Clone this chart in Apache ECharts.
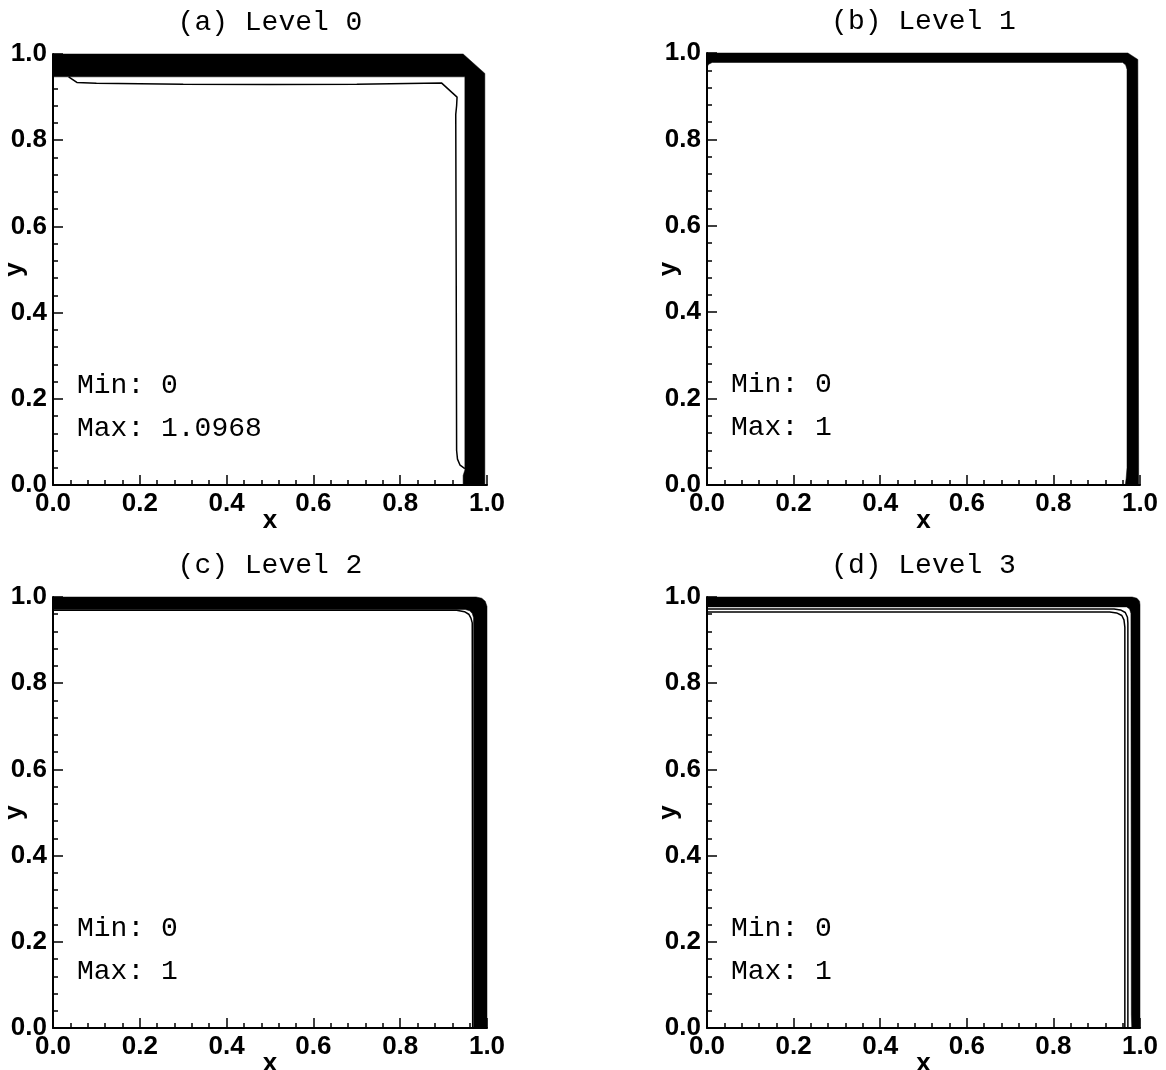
<!DOCTYPE html>
<html>
<head>
<meta charset="utf-8">
<script src="https://cdn.jsdelivr.net/npm/echarts@6/dist/echarts.min.js"></script>
<style>
  html, body { margin: 0; padding: 0; background: #fff; }
  #chart { width: 1166px; height: 1070px; }
</style>
</head>
<body>
<div id="chart"></div>
<script>
// Panel captions and field statistics
const panelTitles = ['(a) Level 0', '(b) Level 1', '(c) Level 2', '(d) Level 3'];
const fieldMin = ['0', '0', '0', '0'];
const fieldMax = ['1.0968', '1', '1', '1'];
const tickStep = 0.2;

// Packed contour bundle along the lid and the right wall:
// outer edge (top-left -> top-right -> bottom-right), then inner edge (bottom -> top -> left)
const bandOuterA = [[0, 1.0], [0.945, 1.0], [0.995, 0.955], [0.995, 0]];
const bandInnerA = [[0.945, 0], [0.945, 0.022], [0.949, 0.035], [0.949, 0.947], [0, 0.947]];
const bandOuterB = [[0, 1.0], [0.972, 1.0], [0.995, 0.985], [0.997, 0]];
const bandInnerB = [[0.966, 0], [0.968, 0.015], [0.970, 0.04], [0.970, 0.962], [0.967, 0.972],
                    [0.960, 0.978], [0.012, 0.978], [0.004, 0.974], [0, 0.968]];
const bandOuterC = [[0, 1.0], [0.975, 1.0], [0.988, 0.997], [0.996, 0.99], [1.0, 0.978], [1.0, 0]];
const bandInnerC = [[0.969, 0], [0.969, 0.952], [0.966, 0.962], [0.960, 0.968], [0.950, 0.971], [0, 0.971]];
const bandOuterD = [[0, 1.0], [0.982, 1.0], [0.993, 0.997], [0.999, 0.99], [1.0, 0.982], [1.0, 0]];
const bandInnerD = [[0.981, 0], [0.980, 0.03], [0.979, 0.962], [0.976, 0.972], [0.969, 0.977], [0, 0.977]];

// Individual contour lines inside the bundle
const lineA = [[0.036, 0.947], [0.055, 0.934], [0.1, 0.932], [0.3, 0.930], [0.5, 0.929], [0.7, 0.930],
               [0.895, 0.933], [0.931, 0.900], [0.930, 0.880], [0.928, 0.860], [0.929, 0.5],
               [0.930, 0.08], [0.932, 0.060], [0.938, 0.046], [0.949, 0.038]];
const lineC = [[0, 0.969], [0.93, 0.969], [0.948, 0.966], [0.958, 0.960], [0.963, 0.951],
               [0.966, 0.94], [0.967, 0]];
const lineD1 = [[0, 0.972], [0.94, 0.972], [0.955, 0.970], [0.966, 0.964], [0.971, 0.953],
                [0.972, 0.94], [0.972, 0]];
const lineD2 = [[0, 0.965], [0.93, 0.965], [0.946, 0.963], [0.958, 0.957], [0.963, 0.947],
                [0.965, 0.93], [0.965, 0]];

const bands = [
  bandOuterA.concat(bandInnerA),
  bandOuterB.concat(bandInnerB),
  bandOuterC.concat(bandInnerC),
  bandOuterD.concat(bandInnerD)
];
const contourLines = [[lineA], [], [lineC], [lineD1, lineD2]];

// Plot frames for the 2x2 layout
const frames = [
  { left: 53, top: 54, width: 434, height: 431 },
  { left: 707, top: 53, width: 433, height: 432 },
  { left: 53, top: 597, width: 434, height: 431 },
  { left: 707, top: 597, width: 433, height: 431 }
];

const sansFont = '"Liberation Sans", Arial, sans-serif';
const monoFont = '"Liberation Mono", "Courier New", monospace';

function makeAxis(i, dim) {
  const isX = dim === 'x';
  return {
    gridIndex: i,
    type: 'value',
    min: 0,
    max: 1,
    interval: tickStep,
    name: dim,
    nameLocation: 'middle',
    nameGap: isX ? 23 : 25,
    nameRotate: isX ? 0 : 90,
    nameMoveOverlap: false,
    nameTextStyle: { fontFamily: sansFont, fontSize: 26, fontWeight: 'bold', color: '#000' },
    axisLine: { show: true, onZero: false, lineStyle: { color: '#000', width: 2 } },
    axisTick: { show: true, inside: true, length: 10, lineStyle: { color: '#000', width: 1.5 } },
    minorTick: { show: true, splitNumber: 5, length: 5, lineStyle: { color: '#000', width: 1.5 } },
    splitLine: { show: false },
    minorSplitLine: { show: false },
    axisLabel: {
      show: true,
      margin: 6,
      fontFamily: sansFont,
      fontSize: 26,
      fontWeight: 'bold',
      color: '#000',
      showMinLabel: true,
      showMaxLabel: true,
      formatter: v => v.toFixed(1)
    }
  };
}

const grids = frames.map(f => Object.assign({ containLabel: false, outerBoundsMode: 'none' }, f));
const xAxes = frames.map((f, i) => makeAxis(i, 'x'));
const yAxes = frames.map((f, i) => makeAxis(i, 'y'));

const series = [];
bands.forEach((pts, i) => {
  series.push({
    type: 'custom',
    xAxisIndex: i,
    yAxisIndex: i,
    silent: true,
    data: [pts[0]],
    renderItem: (params, api) => ({
      type: 'polygon',
      shape: { points: pts.map(p => api.coord(p)) },
      style: { fill: '#000', stroke: '#000', lineWidth: 0.5 }
    })
  });
});
contourLines.forEach((lines, i) => {
  lines.forEach(pts => {
    series.push({
      type: 'line',
      xAxisIndex: i,
      yAxisIndex: i,
      data: pts,
      symbol: 'none',
      showSymbol: false,
      silent: true,
      lineStyle: { color: '#000', width: 1.5 }
    });
  });
});

// Captions above each panel and the min/max annotation inside it
const graphics = [];
frames.forEach((f, i) => {
  graphics.push({
    type: 'text',
    x: f.left + f.width / 2,
    y: f.top - 31,
    style: { text: panelTitles[i], font: '28px ' + monoFont, fill: '#000',
             textAlign: 'center', textVerticalAlign: 'middle' }
  });
  graphics.push({
    type: 'text',
    x: f.left + 24,
    y: f.top + 332,
    style: { text: 'Min: ' + fieldMin[i], font: '28px ' + monoFont, fill: '#000',
             textAlign: 'left', textVerticalAlign: 'middle' }
  });
  graphics.push({
    type: 'text',
    x: f.left + 24,
    y: f.top + 375,
    style: { text: 'Max: ' + fieldMax[i], font: '28px ' + monoFont, fill: '#000',
             textAlign: 'left', textVerticalAlign: 'middle' }
  });
});

const chart = echarts.init(document.getElementById('chart'), null, { renderer: 'canvas' });
chart.setOption({
  backgroundColor: '#fff',
  animation: false,
  grid: grids,
  xAxis: xAxes,
  yAxis: yAxes,
  series: series,
  graphic: graphics
});
</script>
</body>
</html>
